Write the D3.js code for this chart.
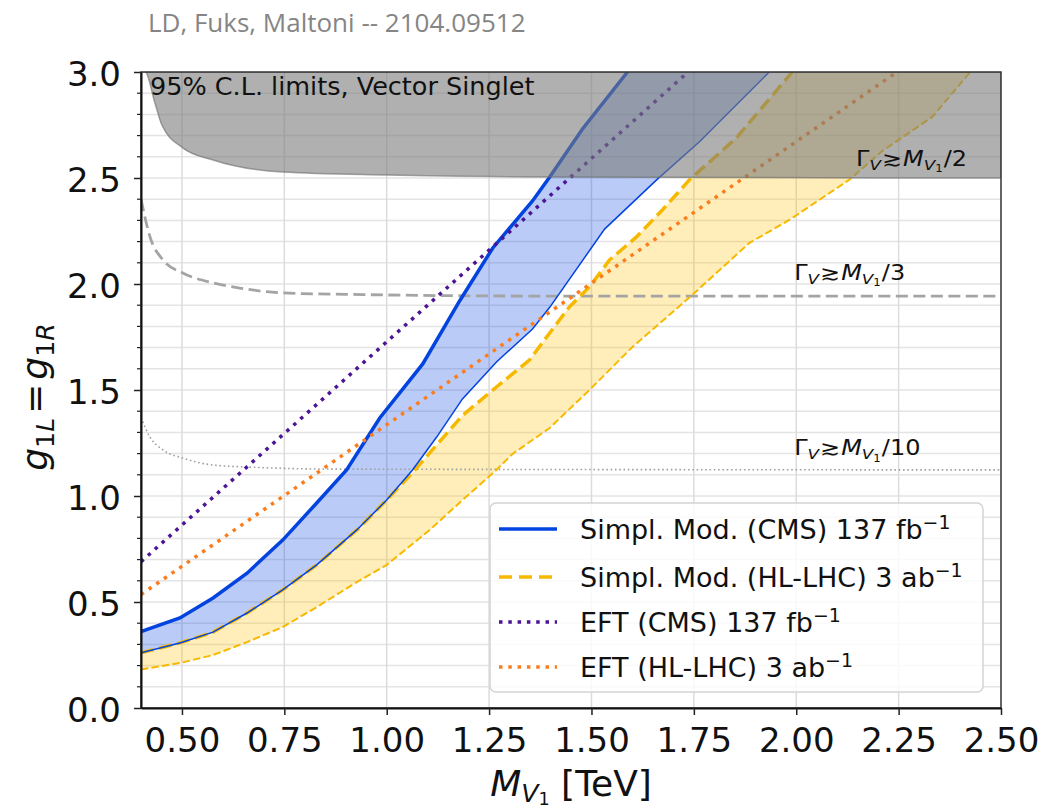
<!DOCTYPE html>
<html>
<head>
<meta charset="utf-8">
<script src="https://cdn.jsdelivr.net/npm/d3@7"></script>
<style>
  body { margin: 0; background: #fff; }
  svg { display: block; }
</style>
</head>
<body>
<svg id="chart"></svg>
<script>
// upper edge of the CMS simplified-model band (solid, thick)
const cmsUpperM = [0.40, 0.495, 0.576, 0.659, 0.746, 0.829, 0.902, 0.983, 1.088, 1.178, 1.259, 1.356, 1.398, 1.478, 1.588];
const cmsUpperG = [0.36, 0.425, 0.519, 0.636, 0.792, 0.967, 1.123, 1.368, 1.623, 1.92, 2.17, 2.392, 2.505, 2.731, 3.0];
// lower edge of the CMS band (solid, thin)
const cmsLowerM = [0.40, 0.495, 0.576, 0.659, 0.746, 0.829, 0.927, 1.0, 1.063, 1.122, 1.185, 1.268, 1.356, 1.398, 1.532, 1.659, 1.763, 1.934];
const cmsLowerG = [0.26, 0.307, 0.358, 0.448, 0.557, 0.675, 0.84, 0.981, 1.123, 1.278, 1.458, 1.632, 1.788, 1.89, 2.259, 2.491, 2.67, 3.0];
// HL-LHC band, upper edge (dashed, thick)
const hlUpperM = [0.40, 0.495, 0.576, 0.659, 0.746, 0.829, 0.927, 1.0, 1.063, 1.105, 1.185, 1.268, 1.349, 1.398, 1.446, 1.495, 1.544, 1.61, 1.673, 1.739, 1.854, 1.99];
const hlUpperG = [0.26, 0.307, 0.358, 0.448, 0.557, 0.675, 0.84, 0.981, 1.11, 1.203, 1.38, 1.514, 1.642, 1.769, 1.892, 1.986, 2.113, 2.222, 2.349, 2.491, 2.689, 3.0];
// HL-LHC band, lower edge (dashed, thin)
const hlLowerM = [0.40, 0.495, 0.576, 0.659, 0.746, 0.829, 0.927, 1.0, 1.105, 1.185, 1.268, 1.307, 1.398, 1.495, 1.6, 1.746, 1.885, 1.983, 2.129, 2.21, 2.332, 2.425];
const hlLowerG = [0.182, 0.212, 0.25, 0.311, 0.382, 0.476, 0.594, 0.675, 0.84, 0.981, 1.123, 1.198, 1.321, 1.5, 1.703, 1.948, 2.193, 2.302, 2.491, 2.627, 2.788, 3.0];
// EFT limits (straight lines)
const eftCmsM = [0.40, 1.736];
const eftCmsG = [0.69, 3.0];
const eftHlM = [0.40, 2.246];
const eftHlG = [0.535, 3.0];
// width contours
const width2M = [0.40, 0.41, 0.434, 0.451, 0.502, 0.576, 0.746, 1.0, 1.4, 2.5];
const width2G = [3.0, 3.0, 2.854, 2.75, 2.642, 2.585, 2.528, 2.514, 2.505, 2.50];
const width3M = [0.40, 0.422, 0.454, 0.502, 0.576, 0.641, 0.746, 0.941, 1.4, 2.5];
const width3G = [2.40, 2.222, 2.113, 2.052, 2.005, 1.981, 1.958, 1.950, 1.943, 1.943];
const width10M = [0.40, 0.422, 0.454, 0.502, 0.576, 0.659, 0.861, 2.5];
const width10G = [1.37, 1.278, 1.217, 1.179, 1.146, 1.137, 1.127, 1.123];
const widthLabelM = [2.146, 1.995, 1.995];
const widthLabelG = [2.557, 2.02, 1.193];
const widthLabelDen = ['2', '3', '10'];

const xTicks = [0.5, 0.75, 1.0, 1.25, 1.5, 1.75, 2.0, 2.25, 2.5];
const yTicks = [0, 0.5, 1.0, 1.5, 2.0, 2.5, 3.0];
const yMinor = d3.range(1, 30).map(i => i / 10);
const legendLabels = [
  ['Simpl. Mod. (CMS) 137 fb', '\u22121'],
  ['Simpl. Mod. (HL-LHC) 3 ab', '\u22121'],
  ['EFT (CMS) 137 fb', '\u22121'],
  ['EFT (HL-LHC) 3 ab', '\u22121']
];

const W = 1063, H = 811;
const svg = d3.select('#chart').attr('width', W).attr('height', H);
svg.append('rect').attr('width', W).attr('height', H).attr('fill', '#fff');

const x = d3.scaleLinear().domain([0.4, 2.5]).range([141, 1001]);
const y = d3.scaleLinear().domain([0, 3]).range([708, 72]);

const pts = (ms, gs) => ms.map((m, i) => [m, gs[i]]);
const line = d3.line().x(d => x(d[0])).y(d => y(d[1]));
const smooth = d3.line().x(d => x(d[0])).y(d => y(d[1])).curve(d3.curveMonotoneX);

const FONT = 'DejaVu Sans';

// math-ish text: lv 0 normal, 1 subscript, 2 sub-sub, -1 superscript
function mathText(parent, parts, size, shifts) {
  const t = parent.append('text').attr('font-family', FONT).attr('font-size', size).attr('fill', '#111');
  const shiftOf = shifts || { 0: 0, 1: 0.2, 2: 0.32, '-1': -0.38 };
  let shift = 0;
  parts.forEach(p => {
    const lv = p.lv || 0;
    const target = shiftOf[lv] * size;
    t.append('tspan')
      .attr('dy', target - shift)
      .attr('dx', p.dx || 0)
      .attr('font-size', size * Math.pow(0.7, Math.abs(lv)))
      .attr('font-style', p.i ? 'italic' : 'normal')
      .text(p.t);
    shift = target;
  });
  return t;
}

svg.append('defs').append('clipPath').attr('id', 'plotclip')
  .append('rect').attr('x', 141).attr('y', 72).attr('width', 860).attr('height', 636);

// grid
const grid = svg.append('g');
grid.selectAll('.hg').data(yMinor).enter().append('line')
  .attr('x1', 141).attr('x2', 1001)
  .attr('y1', d => y(d)).attr('y2', d => y(d))
  .attr('stroke', '#e4e4e4').attr('stroke-width', 1.5);
grid.selectAll('.vg').data(xTicks.slice(0, -1)).enter().append('line')
  .attr('y1', 72).attr('y2', 708)
  .attr('x1', d => x(d)).attr('x2', d => x(d))
  .attr('stroke', '#dcdcdc').attr('stroke-width', 1.5);

const plot = svg.append('g').attr('clip-path', 'url(#plotclip)');

// bands
const hlBand = pts(hlUpperM, hlUpperG).concat(pts(hlLowerM, hlLowerG).reverse());
plot.append('path').attr('d', line(hlBand) + 'Z')
  .attr('fill', '#ffbf00').attr('fill-opacity', 0.27);
const cmsBand = pts(cmsUpperM, cmsUpperG).concat(pts(cmsLowerM, cmsLowerG).reverse());
plot.append('path').attr('d', line(cmsBand) + 'Z')
  .attr('fill', '#0343df').attr('fill-opacity', 0.28);

// width contours
plot.append('path').attr('d', smooth(pts(width3M, width3G)))
  .attr('fill', 'none').attr('stroke', '#a4a4a4').attr('stroke-width', 2.8)
  .attr('stroke-dasharray', '12,5.5');
plot.append('path').attr('d', smooth(pts(width10M, width10G)))
  .attr('fill', 'none').attr('stroke', '#a0a0a0').attr('stroke-width', 1.6)
  .attr('stroke-dasharray', '1.6,2.7');

// limit curves
const curves = [
  { d: pts(hlLowerM, hlLowerG), c: '#f7b900', w: 2, dash: '7.4,3.2' },
  { d: pts(hlUpperM, hlUpperG), c: '#f7b900', w: 3.5, dash: '13,5.6' },
  { d: pts(cmsLowerM, cmsLowerG), c: '#0343df', w: 1.5, dash: null },
  { d: pts(cmsUpperM, cmsUpperG), c: '#0343df', w: 3.5, dash: null },
  { d: pts(eftHlM, eftHlG), c: '#fb7d1e', w: 3.5, dash: '3.5,5.8' },
  { d: pts(eftCmsM, eftCmsG), c: '#4b1596', w: 3.5, dash: '3.5,5.8' }
];
curves.forEach(k => {
  plot.append('path').attr('d', line(k.d))
    .attr('fill', 'none').attr('stroke', k.c).attr('stroke-width', k.w)
    .attr('stroke-dasharray', k.dash);
});

// excluded region: width > M/2
plot.append('path').attr('d', smooth(pts(width2M, width2G).concat([[2.5, 3.0]])) + 'L' + x(0.4) + ',' + y(3) + 'Z')
  .attr('fill', '#7a7b7a').attr('fill-opacity', 0.6)
  .attr('stroke', '#6d6e6d').attr('stroke-opacity', 0.6).attr('stroke-width', 1.5);

// spines
svg.append('rect').attr('x', 141).attr('y', 72).attr('width', 860).attr('height', 636)
  .attr('fill', 'none').attr('stroke', '#333').attr('stroke-width', 1.5);

// axes
const xAxis = svg.append('g').attr('transform', 'translate(0,708)')
  .call(d3.axisBottom(x).tickValues(xTicks).tickFormat(d3.format('.2f')).tickSize(7).tickSizeOuter(0));
xAxis.select('.domain').attr('stroke', '#111').attr('stroke-width', 2);
xAxis.selectAll('.tick line').attr('stroke', '#222').attr('stroke-width', 1.5);
xAxis.selectAll('.tick text').attr('font-family', FONT).attr('font-size', 34).attr('fill', '#111')
  .attr('y', 44).attr('dy', null);

const yAxis = svg.append('g').attr('transform', 'translate(141,0)')
  .call(d3.axisLeft(y).tickValues(yTicks).tickFormat(d3.format('.1f')).tickSize(7).tickSizeOuter(0));
yAxis.select('.domain').attr('stroke', '#111').attr('stroke-width', 2);
yAxis.selectAll('.tick line').attr('stroke', '#222').attr('stroke-width', 1.5);
yAxis.selectAll('.tick text').attr('font-family', FONT).attr('font-size', 34).attr('fill', '#111')
  .attr('x', -20).attr('dy', 13);
svg.append('g').attr('transform', 'translate(141,0)')
  .selectAll('line').data(yMinor.filter(v => Math.round(v * 10) % 5 !== 0)).enter().append('line')
  .attr('x1', -4).attr('x2', 0)
  .attr('y1', d => y(d)).attr('y2', d => y(d))
  .attr('stroke', '#222').attr('stroke-width', 1.2);

// axis labels
mathText(svg, [
  { t: 'M', i: true }, { t: 'V', i: true, lv: 1 }, { t: '1', lv: 2 }, { t: ' [TeV]', lv: 0 }
], 36, { 0: 0, 1: 0.16, 2: 0.24 }).attr('transform', 'translate(' + 571 + ',796)').attr('text-anchor', 'middle');

mathText(svg, [
  { t: 'g', i: true }, { t: '1', lv: 1 }, { t: 'L', i: true, lv: 1 }, { t: '=', lv: 0, dx: 4 },
  { t: 'g', i: true, dx: 4 }, { t: '1', lv: 1 }, { t: 'R', i: true, lv: 1 }
], 36).attr('transform', 'translate(47,397) rotate(-90)').attr('text-anchor', 'middle');

// width labels
widthLabelM.forEach((m, i) => {
  mathText(svg, [
    { t: '\u0393' }, { t: 'V', i: true, lv: 1 }, { t: '\u2273', dx: 1 },
    { t: 'M', i: true, dx: 1 }, { t: 'V', i: true, lv: 1 }, { t: '1', lv: 2 },
    { t: '/' + widthLabelDen[i], lv: 0, dx: 1 }
  ], 24).attr('transform', 'translate(' + x(m) + ',' + y(widthLabelG[i]) + ') scale(1,0.85)');
});

// annotations
svg.append('text').attr('x', 150).attr('y', 95)
  .attr('font-family', FONT).attr('font-size', 25.5).attr('fill', '#111')
  .text('95% C.L. limits, Vector Singlet');
svg.append('text').attr('x', 148).attr('y', 32)
  .attr('font-family', 'Open Sans').attr('font-size', 26).attr('fill', '#858585')
  .text('LD, Fuks, Maltoni -- 2104.09512');

// legend
const lg = svg.append('g');
lg.append('rect').attr('x', 490).attr('y', 503).attr('width', 493).attr('height', 189)
  .attr('rx', 6).attr('fill', '#fff').attr('fill-opacity', 0.8)
  .attr('stroke', '#d4d4d4').attr('stroke-width', 1.5);
const legendStyle = [
  { c: '#0343df', w: 3.5, dash: null },
  { c: '#f7b900', w: 3.5, dash: '13,7' },
  { c: '#4b1596', w: 3.5, dash: '3.5,5.8' },
  { c: '#fb7d1e', w: 3.5, dash: '3.5,5.8' }
];
const rowY = [529, 577, 622, 667];
legendLabels.forEach((lab, i) => {
  const s = legendStyle[i];
  lg.append('line').attr('x1', 499).attr('x2', 557).attr('y1', rowY[i]).attr('y2', rowY[i])
    .attr('stroke', s.c).attr('stroke-width', s.w).attr('stroke-dasharray', s.dash);
  mathText(lg, [{ t: lab[0] }, { t: lab[1], lv: -1 }], 27)
    .attr('x', 580).attr('y', rowY[i] + 10);
});
</script>
</body>
</html>
